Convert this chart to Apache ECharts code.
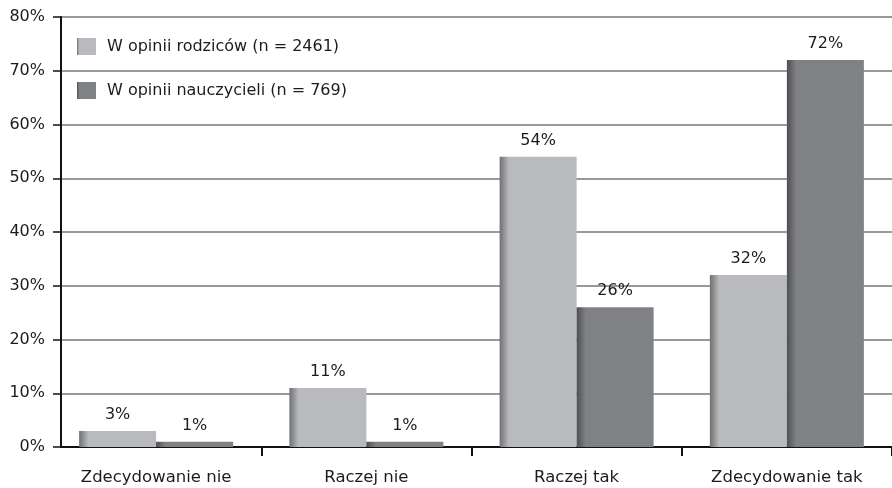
<!DOCTYPE html>
<html>
<head>
<meta charset="utf-8">
<script src="https://cdn.jsdelivr.net/npm/echarts@6/dist/echarts.min.js"></script>
<style>
  html, body { margin: 0; padding: 0; background: #fff; }
  #chart { width: 892px; height: 488px; }
</style>
</head>
<body>
<div id="chart"></div>
<script>
// dane z wykresu
var categories = ['Zdecydowanie nie', 'Raczej nie', 'Raczej tak', 'Zdecydowanie tak']
var parentsName = 'W opinii rodziców (n = 2461)'
var teachersName = 'W opinii nauczycieli (n = 769)'
var parents = [3, 11, 54, 32]
var teachers = [1, 1, 26, 72]

var font = 'DejaVu Sans'
var textColor = '#1e1b1c'

function barColor(edge, mid) {
    return new echarts.graphic.LinearGradient(0, 0, 1, 0, [
        { offset: 0, color: edge },
        { offset: 0.12, color: mid },
        { offset: 1, color: mid },
    ])
}

var chart = echarts.init(document.getElementById('chart'))
var option = {
    animation: false,
    textStyle: { fontFamily: font },
    grid: [
        // bary
        { left: 51, right: -5, top: 17, bottom: 41 },
        // osie i linie siatki
        { left: 61, right: -3, top: 17, bottom: 41 },
    ],
    legend: {
        orient: 'vertical',
        left: 77,
        top: 38,
        padding: 0,
        itemWidth: 19,
        itemHeight: 17,
        itemGap: 27,
        icon: 'rect',
        textStyle: { fontSize: 16, color: textColor, fontFamily: font, padding: [0, 0, 0, 6] },
        data: [parentsName, teachersName],
    },
    xAxis: [
        {
            type: 'category',
            gridIndex: 0,
            data: categories,
            axisLine: { show: false },
            axisTick: {
                show: true,
                length: 9,
                lineStyle: { color: '#111', width: 2 },
                interval: function (index) {
                    return index > 0 && index < categories.length
                },
            },
            axisLabel: { interval: 0, margin: 22, fontSize: 16.5, color: textColor, fontFamily: font },
        },
        {
            type: 'category',
            gridIndex: 1,
            data: categories,
            axisLine: { show: true, lineStyle: { color: '#111', width: 2 } },
            axisTick: { show: false },
            axisLabel: { show: false },
        },
    ],
    yAxis: [
        { type: 'value', gridIndex: 0, min: 0, max: 80, interval: 10, show: false },
        {
            type: 'value',
            gridIndex: 1,
            min: 0,
            max: 80,
            interval: 10,
            axisLine: { show: true, lineStyle: { color: '#111', width: 2 } },
            axisTick: { show: true, length: 8, lineStyle: { color: '#111', width: 1.5 } },
            axisLabel: { formatter: '{value}%', margin: 16, fontSize: 16, color: textColor, fontFamily: font },
            splitLine: { show: true, lineStyle: { color: '#999', width: 2 } },
        },
    ],
    series: [
        {
            name: parentsName,
            type: 'bar',
            xAxisIndex: 0,
            yAxisIndex: 0,
            barWidth: 77,
            barGap: '0%',
            data: parents,
            itemStyle: { color: barColor('#6f7072', '#b9babd') },
            label: { show: true, position: 'top', distance: 8, formatter: '{c}%', fontSize: 16, color: textColor, fontFamily: font },
        },
        {
            name: teachersName,
            type: 'bar',
            xAxisIndex: 0,
            yAxisIndex: 0,
            barWidth: 77,
            barGap: '0%',
            data: teachers,
            itemStyle: { color: barColor('#4e4f51', '#808184') },
            label: { show: true, position: 'top', distance: 8, formatter: '{c}%', fontSize: 16, color: textColor, fontFamily: font },
        },
    ],
}
chart.setOption(option)
</script>
</body>
</html>
